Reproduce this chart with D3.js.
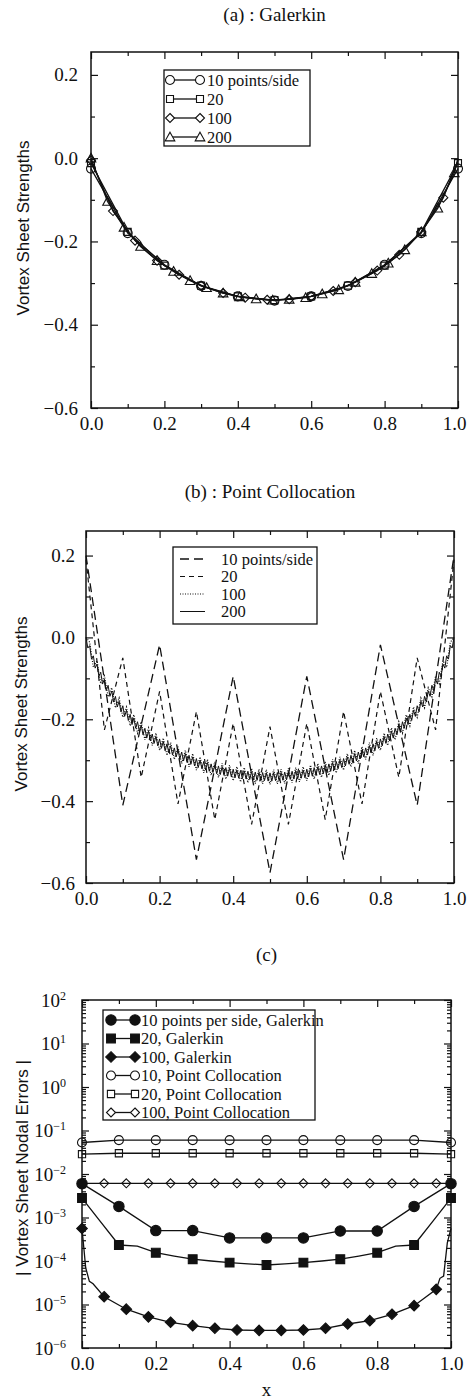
<!DOCTYPE html>
<html>
<head>
<meta charset="utf-8">
<script src="https://cdn.jsdelivr.net/npm/d3@7"></script>
<style>
  body { margin: 0; background: #fff; }
  .serif { font-family: "Liberation Serif", "Times New Roman", serif; fill: #111; }
  .sans { font-family: "Liberation Sans", Arial, sans-serif; fill: #111; }
</style>
</head>
<body>
<svg id="chart" width="467" height="1399"></svg>
<script>
// ---------- (a) Galerkin: vortex sheet strengths, marker points ----------
const aX10 = [0, 0.1, 0.2, 0.3, 0.4, 0.5, 0.6, 0.7, 0.8, 0.9, 1.0];
const aY10 = [-0.025, -0.18, -0.256, -0.307, -0.332, -0.342, -0.332, -0.307, -0.256, -0.18, -0.025];
const aX20 = [0, 0.1, 0.2, 0.3, 0.4, 0.5, 0.6, 0.7, 0.8, 0.9, 1.0];
const aY20 = [-0.012, -0.177, -0.258, -0.306, -0.332, -0.341, -0.332, -0.306, -0.258, -0.177, -0.012];
const aX100 = [0, 0.06, 0.12, 0.18, 0.24, 0.30, 0.36, 0.42, 0.48, 0.54, 0.60, 0.66, 0.72, 0.78, 0.84, 0.90, 0.96, 1.0];
const aY100 = [-0.005, -0.127, -0.198, -0.246, -0.28, -0.306, -0.324, -0.335, -0.340, -0.339, -0.332, -0.319, -0.298, -0.27, -0.232, -0.177, -0.095, -0.005];
const aX200 = [0, 0.045, 0.09, 0.135, 0.18, 0.225, 0.27, 0.315, 0.36, 0.405, 0.45, 0.495, 0.54, 0.585, 0.63, 0.675, 0.72, 0.765, 0.81, 0.855, 0.90, 0.945, 0.99, 1.0];
const aY200 = [0, -0.104, -0.166, -0.212, -0.246, -0.272, -0.294, -0.311, -0.324, -0.333, -0.338, -0.341, -0.339, -0.335, -0.326, -0.316, -0.298, -0.277, -0.252, -0.22, -0.177, -0.12, -0.035, 0];

// ---------- (b) Point collocation ----------
const bX10 = [0, 0.1, 0.2, 0.3, 0.4, 0.5, 0.6, 0.7, 0.8, 0.9, 1.0];
const bY10 = [0.2, -0.41, -0.018, -0.543, -0.095, -0.575, -0.095, -0.543, -0.018, -0.41, 0.2];
const bX20 = [0, 0.05, 0.1, 0.15, 0.2, 0.25, 0.3, 0.35, 0.4, 0.45, 0.5, 0.55, 0.6, 0.65, 0.7, 0.75, 0.8, 0.85, 0.9, 0.95, 1.0];
const bY20 = [0.19, -0.226, -0.05, -0.342, -0.132, -0.407, -0.181, -0.445, -0.21, -0.457, -0.218, -0.457, -0.21, -0.445, -0.181, -0.407, -0.132, -0.342, -0.05, -0.226, 0.19];
// 100 and 200 points per side, evenly spaced nodes on [0, 1]
const bY100 = [
  0, -0.012, -0.073, -0.057, -0.113, -0.094, -0.145, -0.123, -0.172, -0.148, -0.195,
  -0.170, -0.216, -0.189, -0.234, -0.206, -0.250, -0.221, -0.264, -0.234, -0.276,
  -0.246, -0.288, -0.257, -0.298, -0.267, -0.308, -0.276, -0.316, -0.284, -0.324,
  -0.292, -0.331, -0.298, -0.337, -0.304, -0.342, -0.308, -0.346, -0.312, -0.350,
  -0.316, -0.353, -0.318, -0.355, -0.320, -0.357, -0.322, -0.358, -0.323, -0.359,
  -0.323, -0.358, -0.322, -0.357, -0.320, -0.355, -0.318, -0.353, -0.316, -0.350,
  -0.312, -0.346, -0.308, -0.342, -0.304, -0.337, -0.298, -0.331, -0.292, -0.324,
  -0.284, -0.316, -0.276, -0.308, -0.267, -0.298, -0.257, -0.288, -0.246, -0.276,
  -0.234, -0.264, -0.221, -0.250, -0.206, -0.234, -0.189, -0.216, -0.170, -0.195,
  -0.148, -0.172, -0.123, -0.145, -0.094, -0.113, -0.057, -0.073, -0.012, 0
];
const bY200 = [
  0, -0.026, -0.020, -0.053, -0.045, -0.075, -0.065, -0.095, -0.085, -0.114, -0.102,
  -0.130, -0.117, -0.144, -0.131, -0.158, -0.144, -0.170, -0.156, -0.182, -0.167,
  -0.193, -0.178, -0.203, -0.188, -0.213, -0.197, -0.222, -0.206, -0.230, -0.214,
  -0.238, -0.222, -0.246, -0.229, -0.253, -0.236, -0.259, -0.242, -0.265, -0.248,
  -0.271, -0.254, -0.277, -0.260, -0.282, -0.265, -0.287, -0.270, -0.292, -0.275,
  -0.297, -0.280, -0.302, -0.284, -0.306, -0.288, -0.310, -0.292, -0.314, -0.296,
  -0.318, -0.300, -0.321, -0.303, -0.324, -0.306, -0.327, -0.309, -0.330, -0.312,
  -0.333, -0.314, -0.335, -0.316, -0.337, -0.318, -0.339, -0.320, -0.341, -0.322,
  -0.343, -0.324, -0.344, -0.325, -0.345, -0.326, -0.346, -0.327, -0.347, -0.328,
  -0.348, -0.329, -0.349, -0.330, -0.350, -0.330, -0.350, -0.331, -0.351, -0.331,
  -0.351, -0.331, -0.350, -0.330, -0.350, -0.330, -0.349, -0.329, -0.348, -0.328,
  -0.347, -0.327, -0.346, -0.326, -0.345, -0.325, -0.344, -0.324, -0.343, -0.322,
  -0.341, -0.320, -0.339, -0.318, -0.337, -0.316, -0.335, -0.314, -0.333, -0.312,
  -0.330, -0.309, -0.327, -0.306, -0.324, -0.303, -0.321, -0.300, -0.318, -0.296,
  -0.314, -0.292, -0.310, -0.288, -0.306, -0.284, -0.302, -0.280, -0.297, -0.275,
  -0.292, -0.270, -0.287, -0.265, -0.282, -0.260, -0.277, -0.254, -0.271, -0.248,
  -0.265, -0.242, -0.259, -0.236, -0.253, -0.229, -0.246, -0.222, -0.238, -0.214,
  -0.230, -0.206, -0.222, -0.197, -0.213, -0.188, -0.203, -0.178, -0.193, -0.167,
  -0.182, -0.156, -0.170, -0.144, -0.158, -0.131, -0.144, -0.117, -0.130, -0.102,
  -0.114, -0.085, -0.095, -0.065, -0.075, -0.045, -0.053, -0.020, -0.026, 0
];
const bX100 = bY100.map((_, i) => i / (bY100.length - 1));
const bX200 = bY200.map((_, i) => i / (bY200.length - 1));

// ---------- (c) nodal errors (log scale) ----------
const cX10 = [0, 0.1, 0.2, 0.3, 0.4, 0.5, 0.6, 0.7, 0.8, 0.9, 1.0];
const cGal10 = [6e-3, 1.8e-3, 5.0e-4, 5.0e-4, 3.4e-4, 3.4e-4, 3.4e-4, 4.9e-4, 4.9e-4, 1.8e-3, 6e-3];
const cX20 = [0, 0.05, 0.1, 0.15, 0.2, 0.25, 0.3, 0.35, 0.4, 0.45, 0.5, 0.55, 0.6, 0.65, 0.7, 0.75, 0.8, 0.85, 0.9, 0.95, 1.0];
const cGal20 = [2.8e-3, 8e-4, 2.33e-4, 2.2e-4, 1.55e-4, 1.3e-4, 1.1e-4, 1.0e-4, 9.2e-5, 8.6e-5, 8.1e-5, 8.6e-5, 9.2e-5, 1.0e-4, 1.1e-4, 1.3e-4, 1.55e-4, 2.2e-4, 2.33e-4, 8e-4, 2.8e-3];
const cX100g = [0, 0.01, 0.02, 0.03, 0.06, 0.12, 0.18, 0.24, 0.30, 0.36, 0.42, 0.48, 0.54, 0.60, 0.66, 0.72, 0.78, 0.84, 0.90, 0.96, 0.97, 0.98, 0.99, 1.0];
const cGal100 = [5.6e-4, 7e-5, 3.4e-5, 3e-5, 1.51e-5, 7.8e-6, 5.2e-6, 3.9e-6, 3.26e-6, 2.84e-6, 2.59e-6, 2.54e-6, 2.54e-6, 2.59e-6, 2.84e-6, 3.56e-6, 4.25e-6, 5.96e-6, 9.4e-6, 2.23e-5, 4e-5, 4.5e-5, 2.6e-4, 5.6e-4];
const cPc10 = [0.053, 0.06, 0.06, 0.06, 0.06, 0.06, 0.06, 0.06, 0.06, 0.06, 0.053];
const cPc20 = [0.0285, 0.030, 0.030, 0.030, 0.030, 0.030, 0.030, 0.030, 0.030, 0.030, 0.0285];
const cX100p = [0, 0.06, 0.12, 0.18, 0.24, 0.30, 0.36, 0.42, 0.48, 0.54, 0.60, 0.66, 0.72, 0.78, 0.84, 0.90, 0.96, 1.0];
const cPc100 = [6.1e-3, 6.1e-3, 6.1e-3, 6.1e-3, 6.1e-3, 6.1e-3, 6.1e-3, 6.1e-3, 6.1e-3, 6.1e-3, 6.1e-3, 6.1e-3, 6.1e-3, 6.1e-3, 6.1e-3, 6.1e-3, 6.1e-3, 6.1e-3];

const xMajor = [0, 0.2, 0.4, 0.6, 0.8, 1.0];
const xMinor = [0.1, 0.3, 0.5, 0.7, 0.9];
const vMajor = [-0.6, -0.4, -0.2, 0.0, 0.2];
const vMinor = [-0.5, -0.3, -0.1, 0.1];
const logMajor = [1e-6, 1e-5, 1e-4, 1e-3, 1e-2, 1e-1, 1e0, 1e1, 1e2];

const INK = '#111';
const svg = d3.select('#chart');

function markerPath(type, s) {
  if (type === 'circle') return `M${-s},0A${s},${s} 0 1,0 ${s},0A${s},${s} 0 1,0 ${-s},0Z`;
  if (type === 'square') return `M${-s},${-s}H${s}V${s}H${-s}Z`;
  if (type === 'diamond') return `M0,${-s}L${s},0L0,${s}L${-s},0Z`;
  if (type === 'triangle') return `M0,${-s}L${s},${s * 0.8}L${-s},${s * 0.8}Z`;
}

function axisPart(g, axis, tx, ty, vals, size, fmt, pad) {
  return g.append('g')
    .attr('transform', `translate(${tx},${ty})`)
    .call(axis.tickValues(vals).tickSize(size).tickFormat(fmt || '').tickPadding(pad || 0))
    .call(s => s.select('.domain').remove())
    .attr('font-family', null).attr('font-size', null)
    .style('color', INK)
    .call(s => s.selectAll('line').attr('stroke-width', 1.2))
    .call(s => s.selectAll('text').attr('class', 'serif').style('font-size', '19px'));
}

function frame(x, y, yMaj, yMin, yFmt, yPad) {
  const [x0, x1] = x.range(), [y0, y1] = y.range();
  const g = svg.append('g');
  axisPart(g, d3.axisBottom(x), 0, y0, xMinor, -4);
  axisPart(g, d3.axisTop(x), 0, y1, xMinor, -4);
  axisPart(g, d3.axisLeft(y), x0, 0, yMin, -4);
  axisPart(g, d3.axisRight(y), x1, 0, yMin, -4);
  const bottom = axisPart(g, d3.axisBottom(x), 0, y0, xMajor, -7, d3.format('.1f'), 9);
  // keep the last label inside the page edge
  bottom.selectAll('.tick text').filter(d => d === 1 && x(d) + 12 > 466)
    .attr('text-anchor', 'end').attr('dx', 466 - x(1));
  axisPart(g, d3.axisTop(x), 0, y1, xMajor, -7);
  const left = axisPart(g, d3.axisLeft(y), x0, 0, yMaj, -7, yFmt, yPad);
  axisPart(g, d3.axisRight(y), x1, 0, yMaj, -7);
  g.append('rect')
    .attr('x', x0).attr('y', y1).attr('width', x1 - x0).attr('height', y0 - y1)
    .attr('fill', 'none').attr('stroke', INK).attr('stroke-width', 1.5);
  return left;
}

function title(txt, x, y) {
  svg.append('text').attr('class', 'serif').attr('x', x).attr('y', y)
    .attr('text-anchor', 'middle').style('font-size', '19px').text(txt);
}

function yTitle(txt, x, y) {
  svg.append('text').attr('class', 'sans')
    .attr('transform', `translate(${x},${y}) rotate(-90)`)
    .attr('text-anchor', 'middle').attr('dy', '0.35em')
    .style('font-size', '17px').text(txt);
}

function drawSeries(x, y, s) {
  const pts = s.xs.map((v, i) => [v, s.ys[i]]);
  const line = d3.line().x(d => x(d[0])).y(d => y(d[1]));
  svg.append('path').datum(pts).attr('d', line)
    .attr('fill', 'none').attr('stroke', INK).attr('stroke-width', s.width || 1.3)
    .attr('stroke-dasharray', s.dash || null);
  if (!s.shape) return;
  svg.append('g').selectAll('path')
    .data(pts.filter((d, i) => s.mark ? s.mark(d, i) : true))
    .join('path')
    .attr('transform', d => `translate(${x(d[0])},${y(d[1])})`)
    .attr('d', markerPath(s.shape, s.size))
    .attr('fill', s.filled ? INK : 'none')
    .attr('stroke', INK).attr('stroke-width', 1.1);
}

function legend(box, rows, s0, s1, tx, series) {
  svg.append('rect').attr('x', box[0]).attr('y', box[1])
    .attr('width', box[2] - box[0]).attr('height', box[3] - box[1])
    .attr('fill', '#fff').attr('stroke', INK).attr('stroke-width', 1.3);
  series.forEach((s, i) => {
    const yy = rows[i];
    svg.append('line').attr('x1', s0).attr('x2', s1).attr('y1', yy).attr('y2', yy)
      .attr('stroke', INK).attr('stroke-width', s.width || 1.3)
      .attr('stroke-dasharray', s.dash || null);
    if (s.shape) {
      [s0, s1].forEach(px => svg.append('path')
        .attr('transform', `translate(${px},${yy})`)
        .attr('d', markerPath(s.shape, s.size))
        .attr('fill', s.filled ? INK : '#fff')
        .attr('stroke', INK).attr('stroke-width', 1.1));
    }
    svg.append('text').attr('class', 'serif').attr('x', tx).attr('y', yy)
      .attr('dy', '0.35em').style('font-size', '16.5px').text(s.name);
  });
}

const notLast = (d) => d[0] < 1;

// ================= (a) =================
{
  const x = d3.scaleLinear().domain([0, 1]).range([91, 458]);
  const y = d3.scaleLinear().domain([-0.6, 0.255]).range([408, 52]);
  title('(a) : Galerkin', 274.5, 21);
  frame(x, y, vMajor, vMinor, d3.format('.1f'), 13);
  yTitle('Vortex Sheet Strengths', 23, 228);
  const series = [
    { name: '10 points/side', xs: aX10, ys: aY10, shape: 'circle', size: 4.5 },
    { name: '20', xs: aX20, ys: aY20, shape: 'square', size: 3.5 },
    { name: '100', xs: aX100, ys: aY100, shape: 'diamond', size: 4.5, mark: notLast },
    { name: '200', xs: aX200, ys: aY200, shape: 'triangle', size: 4.8, mark: notLast }
  ];
  series.forEach(s => drawSeries(x, y, s));
  legend([164, 70, 310, 146], [80, 99, 118, 137], 170, 200, 207, series);
}

// ================= (b) =================
{
  const x = d3.scaleLinear().domain([0, 1]).range([86, 454]);
  const y = d3.scaleLinear().domain([-0.6, 0.26]).range([883, 531]);
  title('(b) : Point Collocation', 270, 498);
  frame(x, y, vMajor, vMinor, d3.format('.1f'), 11);
  yTitle('Vortex Sheet Strengths', 21, 704);
  const series = [
    { name: '10 points/side', xs: bX10, ys: bY10, dash: '9,5', width: 1.3 },
    { name: '20', xs: bX20, ys: bY20, dash: '5,4', width: 1.2 },
    { name: '100', xs: bX100, ys: bY100, dash: '1,1.5', width: 1.2 },
    { name: '200', xs: bX200, ys: bY200, width: 1.0 }
  ];
  series.forEach(s => drawSeries(x, y, s));
  legend([173, 547, 317, 624], [559, 576.5, 594, 611.5], 180, 205, 221, series);
}

// ================= (c) =================
{
  const x = d3.scaleLinear().domain([0, 1]).range([82, 451]);
  const y = d3.scaleLog().domain([1e-6, 1e2]).range([1348, 1000]);
  const logMinor = [];
  logMajor.slice(0, -1).forEach(p => [2, 3, 4, 5, 6, 7, 8, 9].forEach(m => logMinor.push(p * m)));
  title('(c)', 266.5, 961);
  const left = frame(x, y, logMajor, logMinor, () => '', 16);
  left.selectAll('.tick text').each(function (d) {
    const t = d3.select(this);
    const e = Math.round(Math.log10(d));
    t.append('tspan').text('10');
    t.append('tspan').attr('dy', '-0.55em').style('font-size', '12px')
      .text(e < 0 ? '\u2212' + Math.abs(e) : String(e));
  });
  yTitle('| Vortex Sheet Nodal Errors |', 22, 1168);
  svg.append('text').attr('class', 'serif').attr('x', 266.5).attr('y', 1396)
    .attr('text-anchor', 'middle').style('font-size', '19px').text('x');
  const everyOther = (d, i) => i % 2 === 0;
  const sixths = (d) => d[0] < 1 && Math.round(d[0] * 100) % 6 === 0;
  const series = [
    { name: '10 points per side, Galerkin', xs: cX10, ys: cGal10, shape: 'circle', size: 5.2, filled: true },
    { name: '20, Galerkin', xs: cX20, ys: cGal20, shape: 'square', size: 4.4, filled: true, mark: everyOther },
    { name: '100, Galerkin', xs: cX100g, ys: cGal100, shape: 'diamond', size: 5.3, filled: true, mark: sixths },
    { name: '10, Point Collocation', xs: cX10, ys: cPc10, shape: 'circle', size: 4.5 },
    { name: '20, Point Collocation', xs: cX10, ys: cPc20, shape: 'square', size: 3.6 },
    { name: '100, Point Collocation', xs: cX100p, ys: cPc100, shape: 'diamond', size: 4.5, mark: sixths }
  ];
  // open markers underneath, filled on top
  series.slice(3).forEach(s => drawSeries(x, y, s));
  series.slice(0, 3).forEach(s => drawSeries(x, y, s));
  legend([103, 1010, 315, 1120], [1020, 1038.5, 1057, 1075.5, 1094, 1112.5], 111, 135, 141, series);
}
</script>
</body>
</html>
